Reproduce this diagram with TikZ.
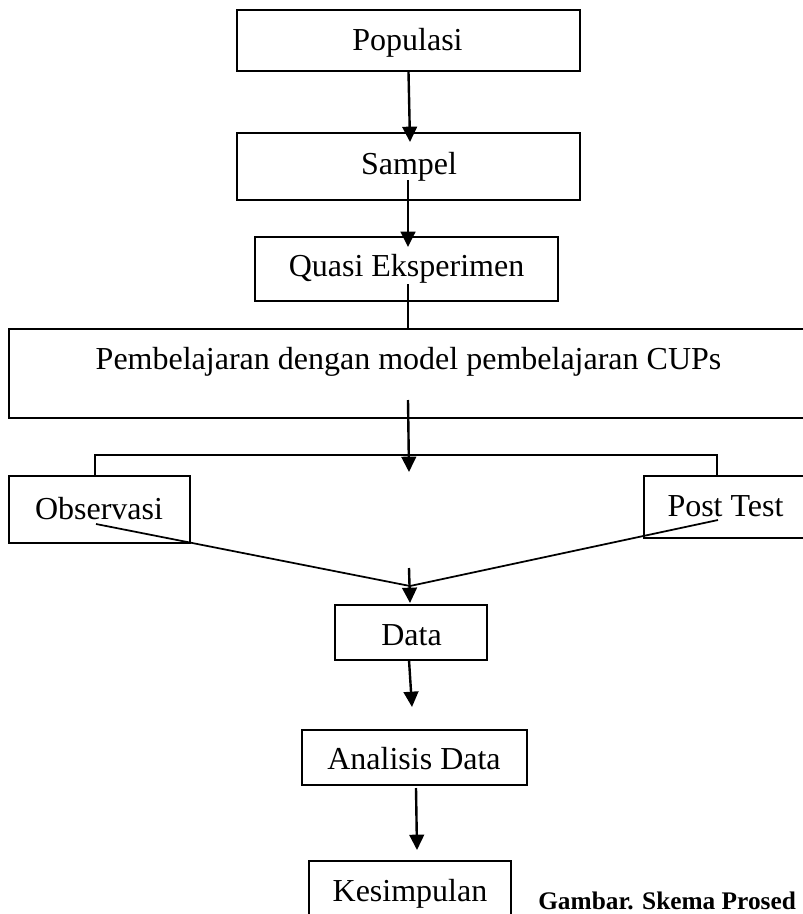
\documentclass[tikz,border=0pt]{standalone}
\usepackage{fontspec}
\setmainfont{Liberation Serif}
\usetikzlibrary{arrows.meta}
\begin{document}
\begin{tikzpicture}[x=0.75pt,y=-0.75pt,
  box/.style={draw,line width=1.4pt,inner sep=0pt,rectangle},
  lbl/.style={anchor=base,inner sep=0pt,font=\fontsize{24}{28}\selectfont},
  arr/.style={line width=1.8pt,-{Triangle[length=11.5pt,width=11pt]}},
  conn/.style={line width=1.6pt},
  diag/.style={line width=1.3pt}]
\useasboundingbox (0,0) rectangle (803,914);
\clip (0,0) rectangle (803,914);
% boxes
\node[box,minimum width=257.25pt,minimum height=45.75pt] (pop) at (408.5,40.5) {};
\node[box,minimum width=257.25pt,minimum height=50.25pt] (sam) at (408.5,166.5) {};
\node[box,minimum width=227.25pt,minimum height=48pt] (qua) at (406.5,269) {};
\node[box,minimum width=599.25pt,minimum height=66.75pt] (pem) at (408.5,373.5) {};
\node[box,minimum width=135.75pt,minimum height=50.25pt] (obs) at (99.5,509.5) {};
\node[box,minimum width=121.5pt,minimum height=46.5pt] (post) at (725,507) {};
\node[box,minimum width=114pt,minimum height=41.25pt] (data) at (411,632.5) {};
\node[box,minimum width=168.75pt,minimum height=41.25pt] (ana) at (414.5,757.5) {};
\node[box,minimum width=151.5pt,minimum height=52.5pt] (kes) at (410,896) {};
% texts
\node[lbl] (popt) at (407.5,50) {Populasi};
\node[lbl] (samt) at (409,174) {Sampel};
\node[lbl] (quat) at (406.5,276) {Quasi Eksperimen};
\node[lbl] (pemt) at (408.5,369) {Pembelajaran dengan model pembelajaran CUPs};
\node[lbl] (obst) at (99,519) {Observasi};
\node[lbl] (postt) at (725.5,516) {Post Test};
\node[lbl] (datat) at (411.5,645) {Data};
\node[lbl] (anat) at (414,769) {Analisis Data};
\node[lbl] (kest) at (410,901) {Kesimpulan};
\node[anchor=base west,inner sep=0pt,font=\fontsize{19}{22}\selectfont\bfseries] (cap) at (538,909) {Gambar. Skema Prosed};
% connector points
\coordinate (a1e) at (410,142);
\coordinate (a2s) at (408,180);
\coordinate (a2e) at (408,247);
\coordinate (l3s) at (408,284);
\coordinate (a4s) at (408,400);
\coordinate (a4e) at (409,472);
\coordinate (bl) at (95,455);
\coordinate (br) at (717,455);
\coordinate (d1s) at (96,524);
\coordinate (d2s) at (718,520);
\coordinate (meet) at (410,586);
\coordinate (a5s) at (409,568);
\coordinate (a5e) at (410,603);
\coordinate (a6s) at (409,660);
\coordinate (a6e) at (412,707);
\coordinate (a7s) at (416,788);
\coordinate (a7e) at (417,850);
% connectors
\draw[arr] (pop.south) -- (a1e);
\draw[arr] (a2s) -- (a2e);
\draw[conn] (l3s) -- (l3s |- pem.north);
\draw[arr] (a4s) -- (a4e);
\draw[conn] (bl |- obs.north) -- (bl) -- (br) -- (br |- post.north);
\draw[diag] (d1s) -- (meet);
\draw[diag] (d2s) -- (meet);
\draw[arr] (a5s) -- (a5e);
\draw[arr] (a6s) -- (a6e);
\draw[arr] (a7s) -- (a7e);
\end{tikzpicture}
\end{document}
